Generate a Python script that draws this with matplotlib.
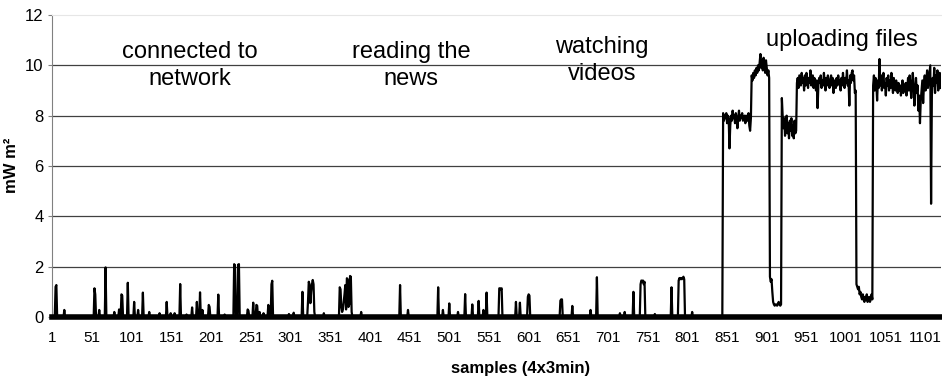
import numpy as np
import matplotlib
matplotlib.use('Agg')
import matplotlib.pyplot as plt

plt.rcParams['font.family'] = ['Liberation Sans', 'DejaVu Sans']

n_samples = 1120

# idle phase: short bursts (start sample, values)
burst_start = [5, 16, 54, 60, 68, 79, 85, 88, 96, 104, 109, 115, 123, 136,
               145, 150, 155, 162, 170, 177, 183, 187, 190, 198, 210, 218,
               230, 235, 247, 254, 258, 262, 267, 273, 277, 299, 305, 316,
               323, 343, 363, 390, 439, 449, 487, 493, 501, 512, 521, 530,
               538, 544, 548, 564, 585, 590, 600, 641, 656, 679, 687, 716,
               722, 733, 742, 760, 781, 790, 807]
burst_vals = [[1.2, 1.27], [0.28], [1.14, 0.9], [0.28], [1.97], [0.2], [0.3],
              [0.9, 0.85], [1.36], [0.6], [0.28], [0.97], [0.2], [0.15],
              [0.6], [0.15], [0.15], [1.31], [0.1], [0.38], [0.6], [0.98],
              [0.28], [0.48, 0.4], [0.89], [0.1], [2.1, 2.05], [2.08, 2.1],
              [0.3, 0.25], [0.57], [0.48, 0.45], [0.2], [0.15], [0.48],
              [1.3, 1.44], [0.12], [0.17], [1.0],
              [0.6, 1.4, 1.3, 0.55, 1.0, 1.3, 1.47, 1.3, 0.2], [0.15],
              [1.18, 1.1, 0.4, 0.2, 0.3, 0.6, 0.9, 1.27, 0.3, 1.54, 1.5,
               0.4, 0.5, 1.63, 1.6, 0.2],
              [0.2], [1.27], [0.28], [1.18], [0.28], [0.54], [0.2], [0.91],
              [0.5], [0.64], [0.28], [0.97], [1.14, 1.14, 1.1, 1.14],
              [0.6], [0.57], [0.8, 0.9, 0.85], [0.65, 0.7, 0.7], [0.44],
              [0.28], [1.58], [0.15], [0.2], [1.0],
              [1.3, 1.45, 1.4, 1.45, 1.3, 1.4], [0.12], [1.18],
              [1.45, 1.55, 1.5, 1.55, 1.5, 1.55, 1.6, 1.5], [0.2]]

# uploading phase, sample by sample from 846
upload_start = 846
upload_a = [8.1, 7.8, 8.0, 7.9, 8.1, 7.7, 8.0, 7.9, 6.7, 7.6, 8.0, 7.8, 8.2,
            7.9, 8.0, 7.7, 8.1, 7.9, 7.5, 7.9, 8.2, 7.8, 8.0, 7.9, 8.1, 7.8,
            7.9, 8.0, 7.7, 8.0, 7.9, 7.8, 8.1, 7.6, 7.4, 7.9]
upload_b = [9.6, 9.4, 9.7, 9.5, 9.8, 9.6, 9.9, 9.7, 10.0, 9.8, 10.1, 10.45,
            9.9, 10.2, 9.8, 10.3, 10.0, 9.7, 10.2, 9.9, 9.6, 9.8, 9.5]
upload_c = [1.6, 1.4, 1.5, 1.0, 0.6, 0.5, 0.45, 0.5, 0.5, 0.45, 0.5, 0.6,
            0.5, 0.45, 0.5]
upload_d = [8.7, 8.0, 7.5, 7.9, 7.2, 7.6, 8.0, 7.3, 7.7, 7.1, 7.8, 7.4, 7.9,
            7.2, 7.6, 7.1, 7.8, 7.3, 7.4]
upload_e = [9.3, 9.5, 9.1, 9.6, 9.4, 9.2, 9.7, 9.3, 9.5, 9.0,
            9.6, 9.2, 9.7, 9.4, 9.1, 9.5, 9.3, 9.8, 9.2, 9.4,
            9.6, 9.1, 9.5, 9.3, 9.0, 9.4, 8.3, 9.2, 9.5, 9.3,
            9.6, 9.1, 9.4, 9.2, 9.7, 9.3, 9.0, 9.5, 9.2, 9.6,
            9.4, 9.1, 9.3, 9.6, 9.2, 9.5, 8.9, 9.4, 9.3, 9.1,
            9.5, 9.2, 9.6, 9.3, 9.4, 9.0, 9.5, 9.2, 9.7, 9.3,
            9.1, 9.5, 9.3, 9.8, 9.2, 9.4, 8.4, 9.6, 9.3, 9.7,
            9.8, 9.4, 9.6, 8.9, 9.0]
upload_f = [1.3, 1.2, 1.1, 1.2, 0.9, 1.0, 0.8, 0.7, 0.9, 0.7, 0.6, 0.8, 0.7,
            0.9, 0.6, 0.7, 0.8, 0.6, 0.7, 0.9, 0.7]
upload_g = [9.2, 9.6, 9.0, 9.5, 9.3, 8.6, 9.4, 9.1, 10.25, 9.2,
            9.6, 9.0, 9.4, 9.7, 9.1, 9.3, 8.8, 9.5, 9.2, 9.6,
            9.0, 9.4, 9.1, 9.7, 9.3, 8.9, 9.5, 9.2, 9.0, 9.4,
            9.1, 8.9, 9.3, 9.0, 9.2, 8.8, 9.1, 9.4, 8.9, 9.2,
            9.0, 9.3, 8.8, 9.1, 9.5, 9.0, 9.6, 9.2, 8.7, 9.3,
            9.7, 9.1, 8.4, 9.0, 9.5, 8.9, 9.2, 8.2, 8.8, 7.7,
            8.6, 9.0, 9.4, 8.5, 9.2, 9.6, 9.0, 9.3, 9.8, 9.1,
            9.4, 9.7, 10.0, 4.5, 8.8, 9.5, 9.2, 9.9, 8.9, 9.6,
            9.3, 9.8, 9.0, 9.5, 9.7, 9.1]

x_ticks = list(range(1, 1102, 50))
y_ticks = [0, 2, 4, 6, 8, 10, 12]

phase_labels = ['connected to\nnetwork', 'reading the\nnews', 'watching\nvideos', 'uploading files']
phase_x = [174, 453, 693, 996]
phase_y = [10.0, 10.0, 10.2, 11.0]

# build the series
samples = np.arange(1, n_samples + 1)
power = np.zeros(n_samples)
for s, vals in zip(burst_start, burst_vals):
    power[s - 1:s - 1 + len(vals)] = vals
upload = upload_a + upload_b + upload_c + upload_d + upload_e + upload_f + upload_g
power[upload_start - 1:upload_start - 1 + len(upload)] = upload

fig = plt.figure(figsize=(9.42, 3.79), dpi=100)
ax = fig.add_axes([52 / 942, 1 - 317 / 379, 889 / 942, 302 / 379])

for g in y_ticks[1:-1]:
    ax.axhline(g, color='#404040', lw=0.9, zorder=1)

ax.plot(samples, power, color='black', lw=1.6, zorder=3)

ax.set_xlim(0.5, n_samples + 0.5)
ax.set_ylim(0, 12)
ax.set_xticks(x_ticks)
ax.set_yticks(y_ticks)
ax.tick_params(axis='x', length=0, pad=10, labelsize=11)
ax.tick_params(axis='y', length=3, width=0.8, color='#808080', pad=3, labelsize=12)

ax.spines['bottom'].set_linewidth(4)
ax.spines['bottom'].set_color('black')
ax.spines['left'].set_color('#808080')
ax.spines['left'].set_linewidth(0.8)
ax.spines['top'].set_color('#e6e6e6')
ax.spines['right'].set_visible(False)

for label, lx, ly in zip(phase_labels, phase_x, phase_y):
    ax.text(lx, ly, label, ha='center', va='center', fontsize=17,
            linespacing=1.3, zorder=4)

fig.text(521 / 942, 1 - 368 / 379, 'samples (4x3min)', ha='center', va='center',
         fontsize=12, fontweight='bold')
fig.text(12 / 942, 1 - 165 / 379, 'mW m²', ha='center', va='center',
         fontsize=12, fontweight='bold', rotation=90)

fig.savefig('out.png', dpi=100)
